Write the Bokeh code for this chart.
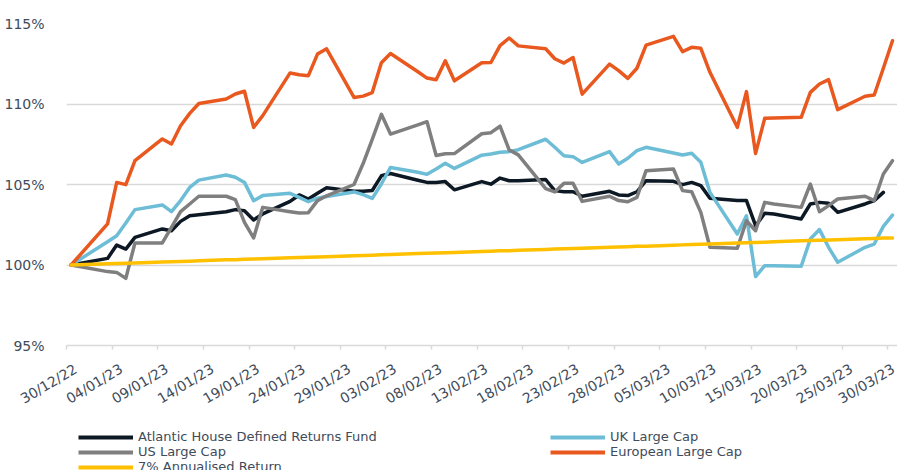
import pandas as pd
from bokeh.plotting import figure
from bokeh.layouts import column
from bokeh.models import FixedTicker, PrintfTickFormatter, Legend, LegendItem, Range1d, ColumnDataSource
from bokeh.embed import file_html
from bokeh.resources import INLINE

dates = [
    "2022-12-30",
    "2023-01-03", "2023-01-04", "2023-01-05", "2023-01-06",
    "2023-01-09", "2023-01-10", "2023-01-11", "2023-01-12", "2023-01-13",
    "2023-01-16", "2023-01-17", "2023-01-18", "2023-01-19", "2023-01-20",
    "2023-01-23", "2023-01-24", "2023-01-25", "2023-01-26", "2023-01-27",
    "2023-01-30", "2023-01-31",
    "2023-02-01", "2023-02-02", "2023-02-03",
    "2023-02-06", "2023-02-07", "2023-02-08", "2023-02-09", "2023-02-10",
    "2023-02-13", "2023-02-14", "2023-02-15", "2023-02-16", "2023-02-17",
    "2023-02-20", "2023-02-21", "2023-02-22", "2023-02-23", "2023-02-24",
    "2023-02-27", "2023-02-28",
    "2023-03-01", "2023-03-02", "2023-03-03",
    "2023-03-06", "2023-03-07", "2023-03-08", "2023-03-09", "2023-03-10",
    "2023-03-13", "2023-03-14", "2023-03-15", "2023-03-16", "2023-03-17",
    "2023-03-20", "2023-03-21", "2023-03-22", "2023-03-23", "2023-03-24",
    "2023-03-27", "2023-03-28", "2023-03-29", "2023-03-30",
]

tick_labels = ["30/12/22", "04/01/23", "09/01/23", "14/01/23", "19/01/23", "24/01/23",
               "29/01/23", "03/02/23", "08/02/23", "13/02/23", "18/02/23", "23/02/23",
               "28/02/23", "05/03/23", "10/03/23", "15/03/23", "20/03/23", "25/03/23",
               "30/03/23"]

y_ticks = [95, 100, 105, 110, 115]

atlantic = [
    100.00,
    100.41, 101.24, 100.99, 101.72,
    102.24, 102.13, 102.71, 103.06, 103.12,
    103.31, 103.44, 103.37, 102.80, 103.17,
    103.95, 104.35, 104.10, 104.45, 104.80,
    104.58, 104.58,
    104.63, 105.54, 105.68,
    105.26, 105.13, 105.13, 105.18, 104.67,
    105.18, 105.02, 105.40, 105.23, 105.23,
    105.31, 104.62, 104.55, 104.55, 104.27,
    104.58, 104.35,
    104.31, 104.55, 105.24,
    105.20, 104.99, 105.13, 104.93, 104.14,
    104.00, 104.00, 102.44, 103.21, 103.17,
    102.86, 103.79, 103.89, 103.83, 103.27,
    103.79, 104.00, 104.51, float("nan"),
]

uk_large = [
    100.00,
    101.45, 101.82, 102.61, 103.44,
    103.73, 103.31, 104.00, 104.82, 105.27,
    105.59, 105.45, 105.13, 104.00, 104.31,
    104.45, 104.20, 103.93, 104.15, 104.25,
    104.54, 104.37,
    104.14, 105.03, 106.06,
    105.76, 105.63, 105.96, 106.32, 106.00,
    106.82, 106.89, 107.00, 107.04, 107.16,
    107.81, 107.31, 106.79, 106.73, 106.37,
    107.04, 106.27,
    106.63, 107.10, 107.31,
    106.96, 106.83, 106.94, 106.38, 104.51,
    101.93, 103.06, 99.28, 99.96, 99.96,
    99.92, 101.61, 102.20, 101.10, 100.17,
    101.10, 101.30, 102.40, 103.10,
]

us_large = [
    100.00,
    99.59, 99.54, 99.17, 101.37,
    101.37, 102.34, 103.31, 103.79, 104.27,
    104.27, 104.06, 102.65, 101.68, 103.58,
    103.31, 103.23, 103.25, 104.00, 104.30,
    105.00, 106.30,
    107.80, 109.36, 108.13,
    108.70, 108.90, 106.80, 106.91, 106.92,
    108.15, 108.22, 108.62, 107.15, 106.84,
    104.74, 104.54, 105.07, 105.07, 103.95,
    104.27, 104.00,
    103.93, 104.20, 105.86,
    105.96, 104.62, 104.55, 103.27, 101.10,
    101.04, 102.75, 102.13, 103.89, 103.79,
    103.58, 105.03, 103.31, 103.69, 104.10,
    104.27, 104.00, 105.65, 106.48,
]

euro_large = [
    100.00,
    102.55, 105.13, 104.99, 106.48,
    107.83, 107.52, 108.65, 109.42, 110.03,
    110.31, 110.62, 110.79, 108.55, 109.28,
    111.93, 111.82, 111.76, 113.10, 113.43,
    110.41, 110.49,
    110.71, 112.56, 113.14,
    112.00, 111.61, 111.51, 112.68, 111.44,
    112.56, 112.58, 113.63, 114.10, 113.61,
    113.43, 112.81, 112.54, 112.89, 110.61,
    112.48, 112.07,
    111.59, 112.22, 113.66,
    114.20, 113.25, 113.52, 113.46, 111.97,
    108.55, 110.77, 106.93, 109.11, 109.13,
    109.17, 110.72, 111.24, 111.51, 109.65,
    110.48, 110.56, 112.22, 113.93,
]

annualised_7 = [
    100.00,
    100.07, 100.09, 100.11, 100.13,
    100.19, 100.20, 100.22, 100.24, 100.26,
    100.32, 100.33, 100.35, 100.37, 100.39,
    100.45, 100.46, 100.48, 100.50, 100.52,
    100.58, 100.59,
    100.61, 100.63, 100.65,
    100.71, 100.73, 100.74, 100.76, 100.78,
    100.84, 100.86, 100.88, 100.89, 100.91,
    100.97, 100.99, 101.01, 101.03, 101.04,
    101.10, 101.12,
    101.14, 101.16, 101.17,
    101.23, 101.25, 101.27, 101.29, 101.31,
    101.37, 101.38, 101.40, 101.42, 101.44,
    101.50, 101.52, 101.54, 101.55, 101.57,
    101.63, 101.65, 101.67, 101.68,
]

series_names = ["Atlantic House Defined Returns Fund", "UK Large Cap", "US Large Cap",
                "European Large Cap", "7% Annualised Return"]
series_colors = ["#0C1824", "#6DBDD6", "#7F7F7F", "#E9581E", "#FFC000"]

base = pd.Timestamp("2022-12-30")
xs = (pd.to_datetime(dates) - base).days.to_numpy().astype(float)
label_days = [float(v) for v in (pd.to_datetime(tick_labels, format="%d/%m/%y") - base).days]
boundary_x = [v - 0.5 for v in label_days]
label_x = [v + 0.5 for v in label_days]   # rotated label anchor, nudged like the original

src = ColumnDataSource(dict(x=xs, atlantic=atlantic, uk=uk_large, us=us_large,
                            euro=euro_large, ann=annualised_7))

W = 897
p = figure(width=W, height=425, output_backend="svg", toolbar_location=None,
           x_range=Range1d(-0.5, 90.55), y_range=Range1d(95, 115),
           min_border_left=66, min_border_right=0, min_border_top=23,
           min_border_bottom=80)
p.outline_line_color = None
p.background_fill_color = "white"
p.border_fill_color = "white"

text_color = "#404B5A"
font = "DejaVu Sans"

p.xgrid.grid_line_color = None
p.ygrid.grid_line_color = "#D9D9D9"
p.ygrid.grid_line_width = 1.5
p.ygrid.ticker = FixedTicker(ticks=y_ticks)

p.yaxis.ticker = FixedTicker(ticks=y_ticks)
p.yaxis.formatter = PrintfTickFormatter(format="%d%%")
p.yaxis.axis_line_color = None
p.yaxis.major_tick_line_color = None
p.yaxis.minor_tick_line_color = None
p.yaxis.major_label_standoff = 16
p.yaxis.major_label_text_font = font
p.yaxis.major_label_text_font_size = "14px"
p.yaxis.major_label_text_color = text_color

p.xaxis.ticker = FixedTicker(ticks=label_x, minor_ticks=boundary_x)
p.xaxis.major_label_overrides = {t: l for t, l in zip(label_x, tick_labels)}
p.xaxis.axis_line_color = "#D9D9D9"
p.xaxis.axis_line_width = 1.5
p.xaxis.major_tick_line_color = None
p.xaxis.major_tick_in = 0
p.xaxis.major_tick_out = 4
p.xaxis.minor_tick_line_color = "#D9D9D9"
p.xaxis.minor_tick_line_width = 1.5
p.xaxis.minor_tick_in = 0
p.xaxis.minor_tick_out = 4
p.xaxis.major_label_orientation = 0.54
p.xaxis.major_label_standoff = 18
p.xaxis.major_label_text_font = font
p.xaxis.major_label_text_font_size = "14px"
p.xaxis.major_label_text_color = text_color

cols = ["atlantic", "uk", "us", "euro", "ann"]
for c, color in zip(cols, series_colors):
    p.line("x", c, source=src, line_color=color, line_width=3.5,
           line_join="round", line_cap="round")

# legend panel below the chart
lp = figure(width=W, height=45, output_backend="svg", toolbar_location=None,
            x_range=Range1d(0, 1), y_range=Range1d(0, 1),
            x_axis_location=None, y_axis_location=None,
            min_border_left=0, min_border_right=0, min_border_top=0, min_border_bottom=0)
lp.grid.visible = False
lp.outline_line_color = None
lp.border_fill_color = "white"
lp.background_fill_color = "white"

# keys only: these samples sit outside the visible range of the legend panel
legend_renderers = [lp.line(x=[5, 6], y=[5, 6], line_color=color, line_width=4)
                    for color in series_colors]

def make_legend(idx, loc):
    lg = Legend(items=[LegendItem(label=series_names[i], renderers=[legend_renderers[i]])
                       for i in idx],
                location=loc, orientation="vertical")
    lg.border_line_color = None
    lg.background_fill_alpha = 0
    lg.padding = 0
    lg.margin = 0
    lg.spacing = 0
    lg.glyph_width = 55
    lg.glyph_height = 14
    lg.label_height = 14
    lg.label_standoff = 5
    lg.label_text_font = font
    lg.label_text_font_size = "13px"
    lg.label_text_color = text_color
    lg.label_text_baseline = "middle"
    return lg

lp.add_layout(make_legend([0, 2, 4], (12, -4)))
lp.add_layout(make_legend([1, 3], (484, 11)))

layout = column(p, lp, spacing=0)
open("out.html", "w").write(file_html(layout, INLINE))
